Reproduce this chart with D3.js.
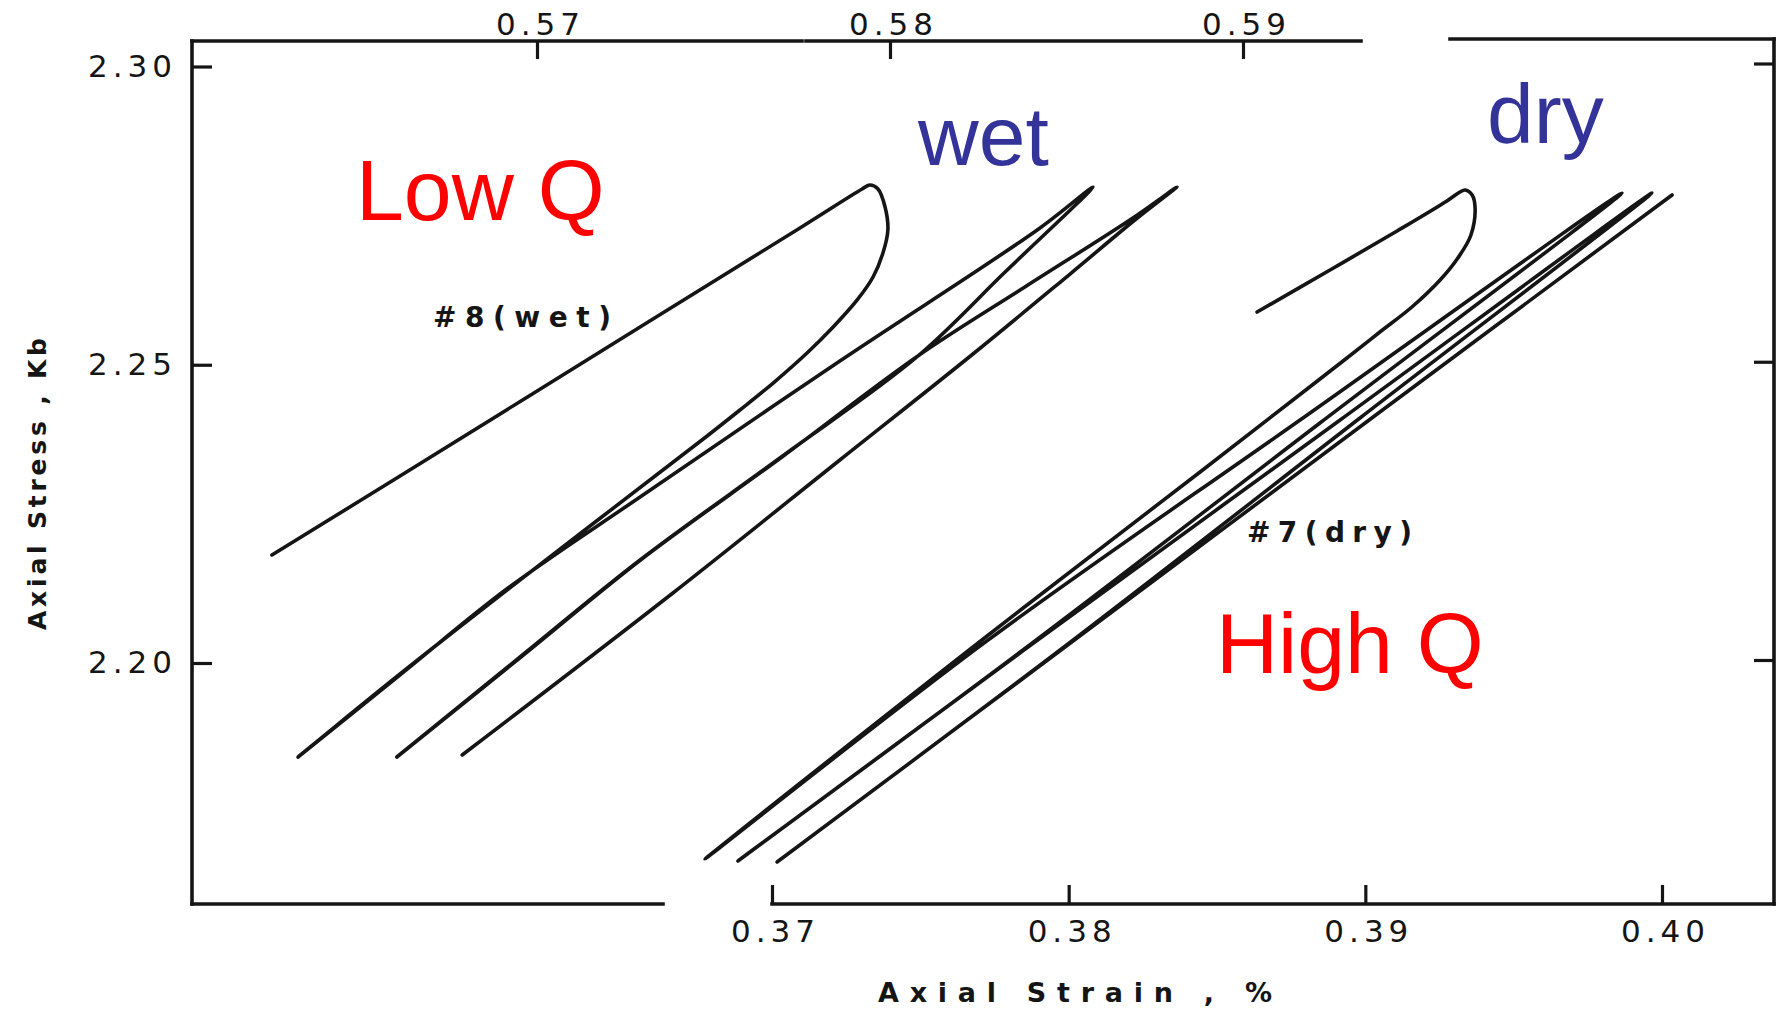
<!DOCTYPE html>
<html>
<head>
<meta charset="utf-8">
<script src="https://cdn.jsdelivr.net/npm/d3@7"></script>
<style>
  html, body { margin: 0; padding: 0; background: #fff; }
  svg { display: block; }
</style>
</head>
<body>
<script>
// tick values on the three axes
const stressTicks = [2.20, 2.25, 2.30]
const strainTicksBottom = [0.37, 0.38, 0.39, 0.40]
const strainTicksTop = [0.57, 0.58, 0.59]

// sample #8 (wet) -- strain is read on the top axis
const wetStrain = [
  0.56249, 0.56612, 0.57292, 0.57745, 0.57921, 0.57943,            // first loading
  0.57966, 0.57986, 0.57994, 0.57980, 0.57952, 0.57907, 0.57839,   // first unloading
  0.57765, 0.57669, 0.57575, 0.57482, 0.56915, 0.56612, 0.56323,
  0.56614, 0.56918, 0.57292, 0.57858, 0.58425, 0.58575,            // reload 2
  0.58326, 0.58076, 0.57688, 0.57292, 0.56952, 0.56603,            // unload 2
  0.56958, 0.57297, 0.57694, 0.58079, 0.58382, 0.58688, 0.58813,   // reload 3
  0.58697, 0.58510, 0.58235, 0.57858, 0.57385, 0.56788]            // unload 3
const wetStress = [
  2.21811, 2.23135, 2.25633, 2.27293, 2.27946, 2.28013,
  2.27946, 2.27645, 2.27259, 2.26873, 2.26471, 2.26086, 2.25633,
  2.25197, 2.24694, 2.24241, 2.23806, 2.21224, 2.19816, 2.18424,
  2.19810, 2.21257, 2.22783, 2.25063, 2.27293, 2.27980,
  2.26555, 2.25130, 2.23437, 2.21727, 2.20101, 2.18424,
  2.20117, 2.21743, 2.23453, 2.25147, 2.26303, 2.27460, 2.27980,
  2.27443, 2.26521, 2.25180, 2.23403, 2.21174, 2.18458]

// sample #7 (dry) -- strain is read on the bottom axis
const dryStrain = [
  0.38635, 0.38881, 0.39107, 0.39275, 0.39319, 0.39336,            // first loading
  0.39360, 0.39370, 0.39356, 0.39312, 0.39252, 0.39157, 0.39049,   // first unloading
  0.38938, 0.38756, 0.38443, 0.37725, 0.36774,
  0.37727, 0.38780, 0.39865,                                       // reload 2
  0.38847, 0.37846, 0.36885,                                       // unload 2
  0.37848, 0.38915, 0.39966,                                       // reload 3
  0.38982, 0.37971, 0.37017,                                       // unload 3
  0.37973, 0.39049, 0.40034]                                       // reload 4
const dryStress = [
  2.25884, 2.26589, 2.27242, 2.27745, 2.27896, 2.27930,
  2.27846, 2.27628, 2.27175, 2.26790, 2.26421, 2.25968, 2.25549,
  2.25113, 2.24409, 2.23202, 2.20453, 2.16714,
  2.20380, 2.24074, 2.27879,
  2.24023, 2.20218, 2.16681,
  2.20212, 2.24074, 2.27879,
  2.24107, 2.20218, 2.16664,
  2.20212, 2.24208, 2.27846]

const width = 1789
const height = 1009
const frame = { left: 192, right: 1774, top: 41, bottom: 904 }
const ink = "#151515"

let svg = d3.select("body").append("svg")
  .attr("width", width)
  .attr("height", height)
  .style("background", "#ffffff")

let y = d3.scaleLinear()
  .domain([2.20, 2.30])
  .range([663, 66.5])

let xBottom = d3.scaleLinear()
  .domain([0.37, 0.40])
  .range([772, 1662])

let xTop = d3.scaleLinear()
  .domain([0.57, 0.59])
  .range([537, 1243])

// frame, drawn in pieces because the scan has gaps in the top and bottom lines
let frameSegments = [
  [frame.left, frame.top, frame.left, frame.bottom],
  [frame.right, frame.top - 2, frame.right, frame.bottom],
  [frame.left, frame.bottom, 663, frame.bottom],
  [xBottom(0.37), frame.bottom, frame.right, frame.bottom],
  [frame.left, frame.top, 802, frame.top],
  [806, frame.top, 1361, frame.top],
  [1450, frame.top - 2, frame.right, frame.top - 2]
]

svg.append("g")
  .selectAll("line")
  .data(frameSegments)
  .join("line")
  .attr("x1", d => d[0])
  .attr("y1", d => d[1])
  .attr("x2", d => d[2])
  .attr("y2", d => d[3])
  .style("stroke", ink)
  .style("stroke-width", 3.6)
  .style("stroke-linecap", "square")

function styleAxis(g) {
  g.select(".domain").remove()
  g.selectAll(".tick line")
    .style("stroke", ink)
    .style("stroke-width", 3.2)
  g.selectAll(".tick text")
    .style("font-family", "'DejaVu Sans', sans-serif")
    .style("font-size", "31px")
    .style("letter-spacing", "5px")
    .style("fill", ink)
}

let fmt = d3.format(".2f")

let leftAxis = svg.append("g")
  .attr("transform", `translate(${frame.left},0)`)
  .call(d3.axisLeft(y).tickValues(stressTicks).tickSizeInner(-20).tickSizeOuter(0)
    .tickPadding(15).tickFormat(fmt))
  .call(styleAxis)

let rightAxis = svg.append("g")
  .attr("transform", `translate(${frame.right},-3)`)
  .call(d3.axisRight(y).tickValues(stressTicks).tickSizeInner(-20).tickSizeOuter(0)
    .tickFormat(""))
  .call(styleAxis)

let bottomAxis = svg.append("g")
  .attr("transform", `translate(0,${frame.bottom})`)
  .call(d3.axisBottom(xBottom).tickValues(strainTicksBottom).tickSizeInner(-19).tickSizeOuter(0)
    .tickPadding(16).tickFormat(fmt))
  .call(styleAxis)
bottomAxis.selectAll(".tick text").attr("dx", 3)

let topAxis = svg.append("g")
  .attr("transform", `translate(0,${frame.top})`)
  .call(d3.axisTop(xTop).tickValues(strainTicksTop).tickSizeInner(-18).tickSizeOuter(0)
    .tickPadding(6).tickFormat(fmt))
  .call(styleAxis)
topAxis.selectAll(".tick text").attr("dx", 3)

// the two hysteresis records
let line = d3.line()
  .x(d => d[0])
  .y(d => d[1])
  .curve(d3.curveCatmullRom.alpha(0.5))

let wetPoints = wetStrain.map((v, i) => [xTop(v), y(wetStress[i])])
let dryPoints = dryStrain.map((v, i) => [xBottom(v), y(dryStress[i])])

svg.append("g")
  .selectAll("path")
  .data([wetPoints, dryPoints])
  .join("path")
  .attr("d", d => line(d))
  .style("fill", "none")
  .style("stroke", ink)
  .style("stroke-width", 3.6)
  .style("stroke-linejoin", "round")
  .style("stroke-linecap", "round")

// axis titles
svg.append("text")
  .attr("x", 878)
  .attr("y", 1002)
  .attr("textLength", 394)
  .attr("lengthAdjust", "spacing")
  .style("font-family", "'DejaVu Sans', sans-serif")
  .style("font-weight", "bold")
  .style("font-size", "27px")
  .style("fill", ink)
  .text("Axial Strain , %")

svg.append("text")
  .attr("transform", "translate(46,630) rotate(-90)")
  .attr("textLength", 292)
  .attr("lengthAdjust", "spacing")
  .style("font-family", "'DejaVu Sans', sans-serif")
  .style("font-weight", "bold")
  .style("font-size", "25px")
  .style("fill", ink)
  .text("Axial Stress , Kb")

// sample labels
svg.append("text")
  .attr("x", 433)
  .attr("y", 327)
  .attr("textLength", 178)
  .attr("lengthAdjust", "spacing")
  .style("font-family", "'DejaVu Sans', sans-serif")
  .style("font-weight", "bold")
  .style("font-size", "28px")
  .style("fill", ink)
  .text("#8(wet)")

svg.append("text")
  .attr("x", 1247)
  .attr("y", 542)
  .attr("textLength", 165)
  .attr("lengthAdjust", "spacing")
  .style("font-family", "'DejaVu Sans', sans-serif")
  .style("font-weight", "bold")
  .style("font-size", "28px")
  .style("fill", ink)
  .text("#7(dry)")

// coloured overlay annotations
let notes = [
  { text: "Low Q", x: 356, y: 220, size: 86, color: "#ff0000" },
  { text: "wet", x: 918, y: 165, size: 84, color: "#333399" },
  { text: "dry", x: 1487, y: 143, size: 84, color: "#333399" },
  { text: "High Q", x: 1216, y: 673, size: 86, color: "#ff0000" }
]

svg.append("g")
  .selectAll("text")
  .data(notes)
  .join("text")
  .attr("x", d => d.x)
  .attr("y", d => d.y)
  .style("font-family", "'Liberation Sans', Arial, sans-serif")
  .style("font-size", d => d.size + "px")
  .style("fill", d => d.color)
  .text(d => d.text)
</script>
</body>
</html>
